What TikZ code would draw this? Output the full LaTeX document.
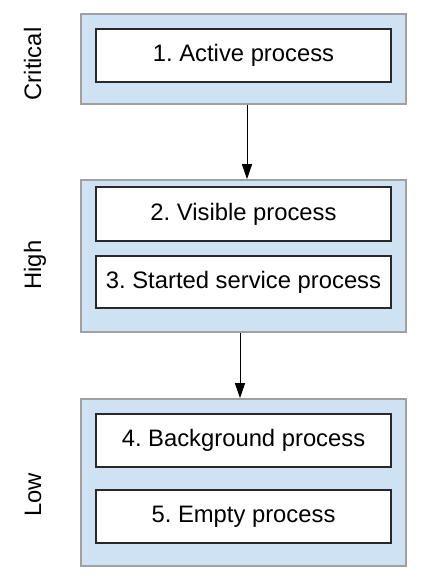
\documentclass[tikz,border=0pt]{standalone}
\usepackage{fontspec}
\setmainfont{Liberation Sans}
\usepackage{tikz}
\usetikzlibrary{arrows.meta}
\frenchspacing

\definecolor{groupfill}{RGB}{207,226,243}
\definecolor{groupline}{RGB}{160,160,160}
\definecolor{boxline}{RGB}{40,40,40}

\tikzset{
  group/.style={draw=groupline, line width=1.6pt, fill=groupfill, minimum width=325pt, inner sep=0pt},
  procbox/.style={draw=boxline, line width=1.3pt, fill=white, minimum width=295pt, minimum height=53pt, inner sep=0pt, font=\fontsize{23.8}{28}\selectfont},
  level/.style={rotate=90, anchor=base, font=\fontsize{23.8}{28}\selectfont},
  flow/.style={-{Triangle[width=10pt,length=15pt]}, line width=1pt}
}

\begin{document}
\begin{tikzpicture}[x=1pt,y=-1pt]
          \useasboundingbox (0,0) rectangle (433,584);
          % critical
          \node[group, minimum height=90pt] (crit) at (243.5,59) {};
          \node[procbox] (active) at (243.5,55.5) {1. Active process};
          \node[level] (critlabel) at (41,64) {Critical};
          % high
          \node[group, minimum height=152pt] (high) at (243.5,256) {};
          \node[procbox, minimum height=54pt] (visible) at (243.5,214) {2. Visible process};
          \node[procbox, minimum height=52pt] (service) at (243.5,282) {3. Started service process};
          \node[level] (highlabel) at (41,265) {High};
          % low
          \node[group, minimum height=167pt] (low) at (243.5,482.5) {};
          \node[procbox] (background) at (243.5,440.5) {4. Background process};
          \node[procbox] (empty) at (243.5,516.5) {5. Empty process};
          \node[level] (lowlabel) at (41,495) {Low};
          % arrows
          \draw[flow] ([xshift=3.5pt]crit.south) -- ([xshift=3.5pt]high.north);
          \draw[flow] ([xshift=-3.5pt]high.south) -- ([xshift=-3.5pt]low.north);
        \end{tikzpicture}
\end{document}
